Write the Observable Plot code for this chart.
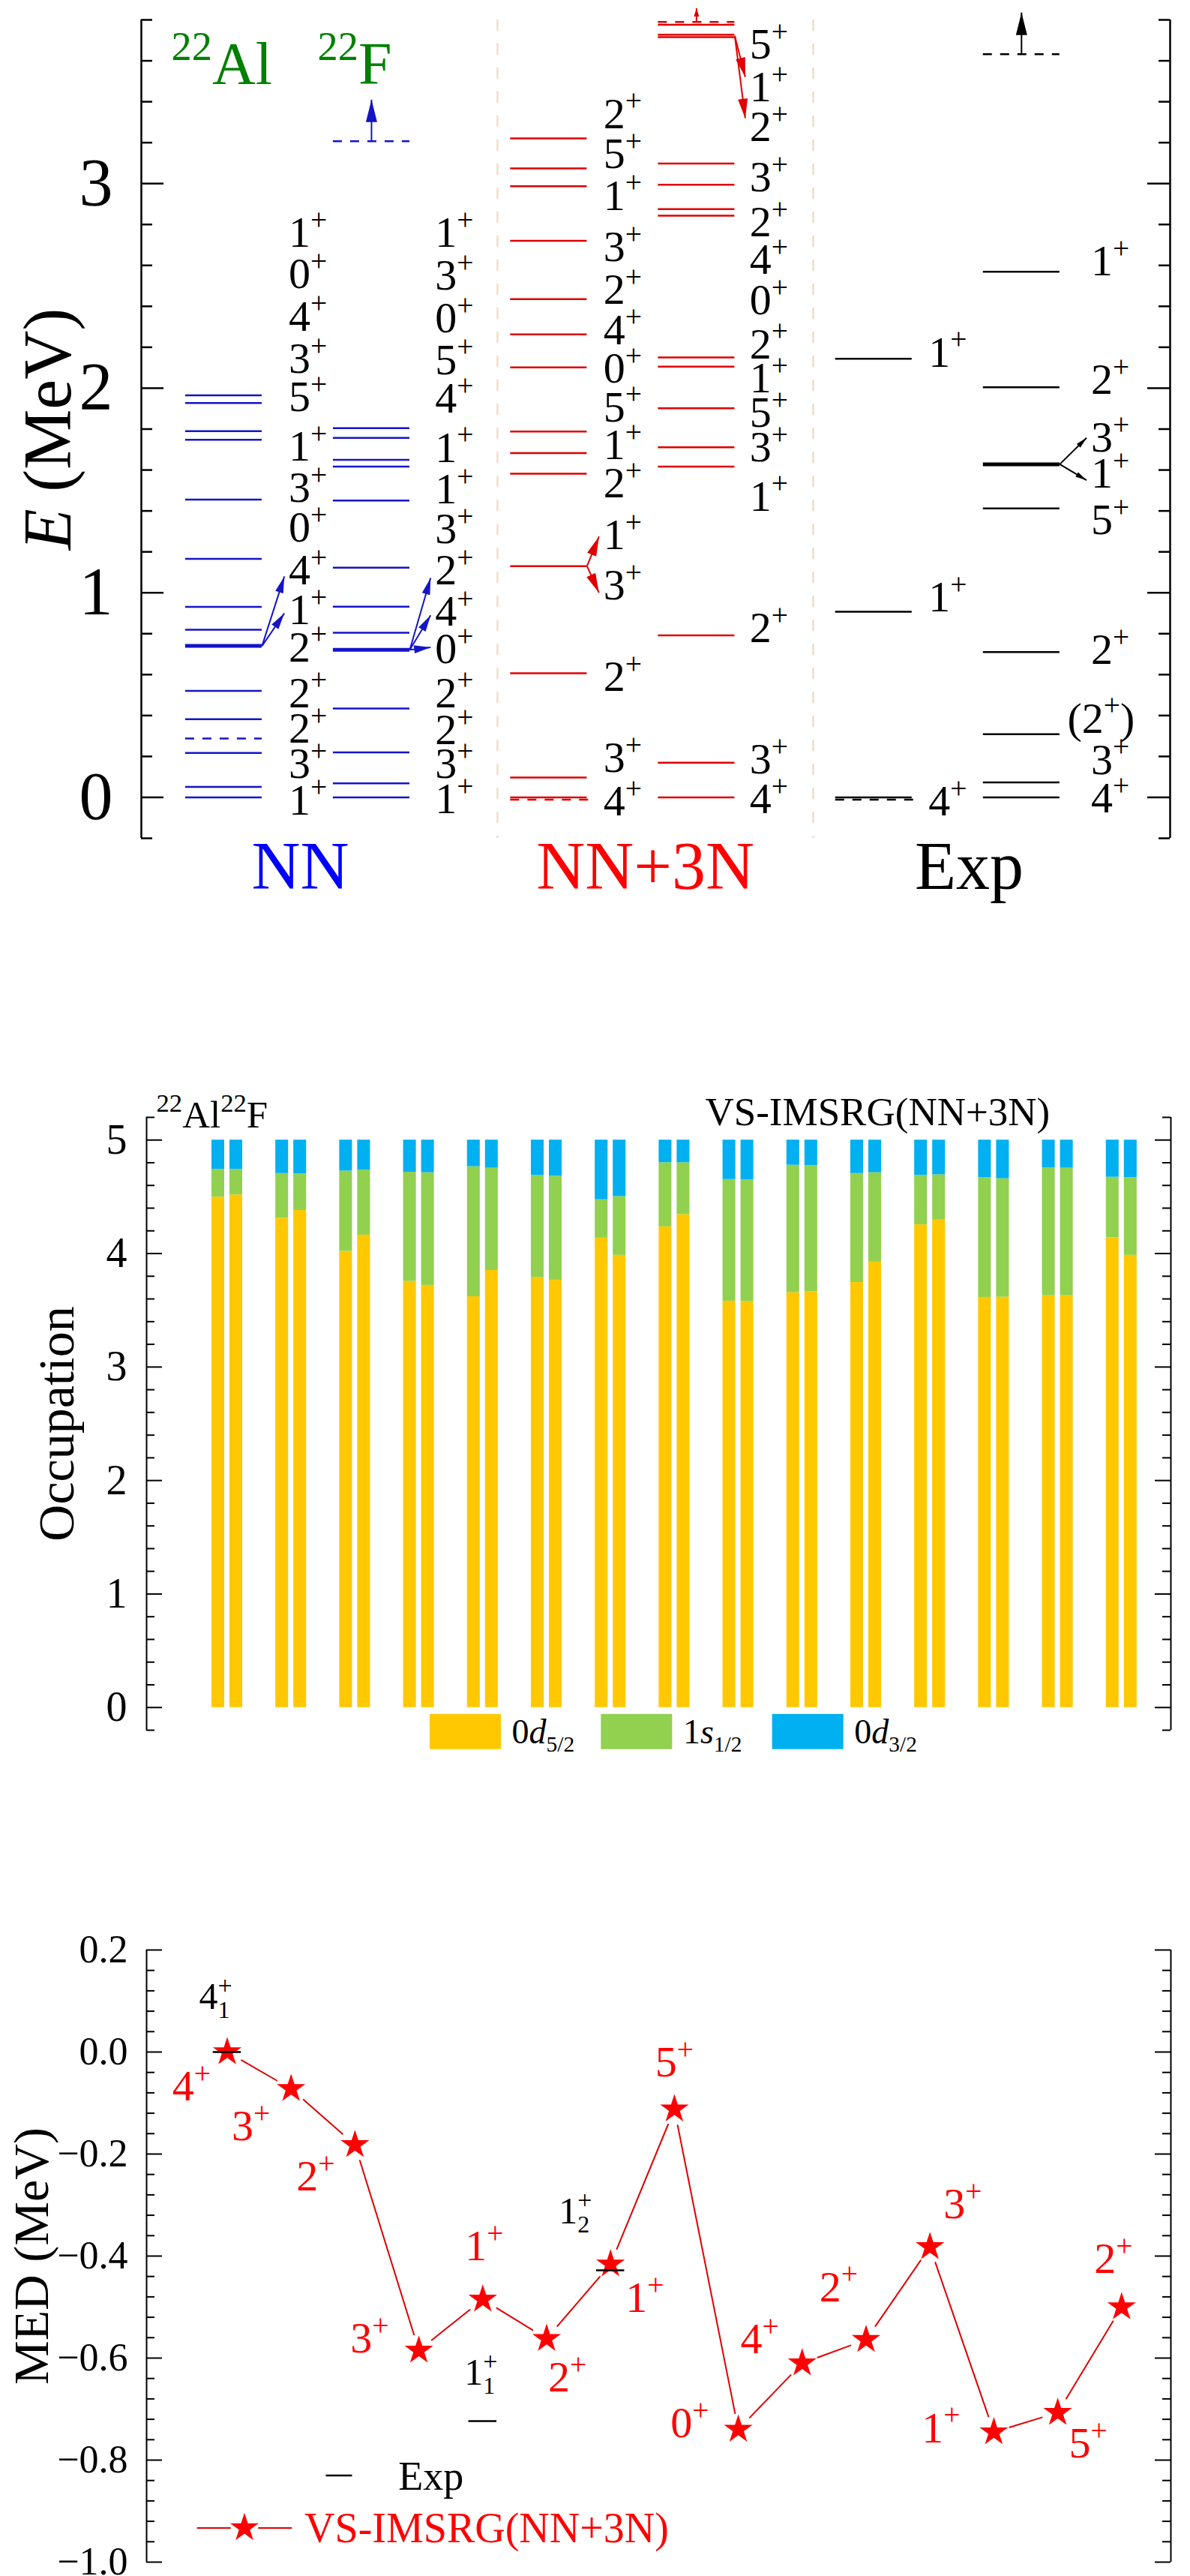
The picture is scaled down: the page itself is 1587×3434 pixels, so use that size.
<!DOCTYPE html>
<html><head><meta charset="utf-8">
<script src="https://cdn.jsdelivr.net/npm/d3@7"></script>
<script src="https://cdn.jsdelivr.net/npm/@observablehq/plot@0.6"></script>
<style>
html,body{margin:0;padding:0;background:#fff;}
#wrap{position:relative;width:1587px;height:3434px;background:#fff;}
#wrap svg{position:absolute;left:0;font-family:"Liberation Serif","Times New Roman",serif !important;}
#wrap svg text, #wrap svg tspan{font-family:"Liberation Serif","Times New Roman",serif !important;}
</style></head><body><div id="wrap"></div>
<script>
// ================= DATA =================
// --- Level scheme, excitation energies (MeV) ---
const nnAl = [0, 0.051, 0.217, 0.382, 0.520, 0.740, 0.819, 0.931, 1.166, 1.455, 1.748, 1.790, 1.927, 1.965];
const nnAlDashed = [0.288];
const nnAlThick = [0.740];
const nnAlSpin = ["1+","3+","2+","2+","2+","1+","4+","0+","3+","1+","5+","3+","4+","0+","1+"];
const nnAlSpinE = [-0.015,0.162,0.335,0.509,0.733,0.913,1.108,1.318,1.513,1.715,1.955,2.144,2.35,2.557,2.76];

const nnF = [0, 0.069, 0.220, 0.434, 0.721, 0.805, 0.932, 1.123, 1.451, 1.617, 1.650, 1.757, 1.805];
const nnFDashed = [3.207];
const nnFThick = [0.721];
const nnFSpin = ["1+","3+","2+","2+","0+","4+","2+","3+","1+","1+","4+","5+","0+","3+","1+"];
const nnFSpinE = [-0.01,0.162,0.328,0.509,0.725,0.906,1.108,1.311,1.506,1.708,1.948,2.137,2.34,2.55,2.76];

const n3Al = [0, 0.097, 0.607, 1.130, 1.582, 1.683, 1.788, 2.102, 2.263, 2.435, 2.720, 2.987, 3.074, 3.221];
const n3AlDashed = [0];
const n3AlThick = [];
const n3AlSpin = ["4+","3+","2+","3+","1+","2+","1+","5+","0+","4+","2+","3+","1+","5+","2+"];
const n3AlSpinE = [-0.019,0.191,0.588,1.036,1.282,1.535,1.72,1.906,2.095,2.284,2.48,2.69,2.94,3.144,3.34];

const n3F = [0, 0.169, 0.792, 1.617, 1.711, 1.902, 2.105, 2.150, 2.843, 2.875, 2.994, 3.098, 3.716, 3.728, 3.776];
const n3FDashed = [3.790];
const n3FThick = [];
const n3FSpin = ["4+","3+","2+","1+","3+","5+","1+","2+","0+","4+","2+","3+","2+","1+","5+"];
const n3FSpinE = [-0.01,0.184,0.827,1.47,1.71,1.878,2.046,2.214,2.43,2.627,2.81,3.03,3.277,3.47,3.68];

const expAl = [0, 0.907, 2.144];
const expAlDashed = [0];
const expAlThick = [];
const expAlSpin = ["4+","1+","1+"];
const expAlSpinE = [-0.02,0.977,2.174];

const expF = [0, 0.073, 0.309, 0.710, 1.412, 1.628, 2.004, 2.569];
const expFDashed = [3.632];
const expFThick = [1.628];
const expFSpin = ["4+","3+","(2+)","2+","5+","1+","3+","2+","1+"];
const expFSpinE = [-0.005,0.183,0.385,0.721,1.353,1.582,1.757,2.04,2.62];

// transitions (from level -> label energies)
const nnAlArrowFrom = 0.740, nnAlArrowTo = [1.08, 0.90];
const nnFArrowFrom = 0.721, nnFArrowTo = [1.072, 0.89, 0.733];
const n3AlArrowFrom = 1.130, n3AlArrowTo = [1.275, 1.00];
const n3FArrowFrom = 3.722, n3FArrowTo = [3.52, 3.319];
const expFArrowFrom = 1.628, expFArrowTo = [1.757, 1.55];
// thresholds with upward arrows [from, to]
const nnFUp = [3.207, 3.41];
const n3FUp = [3.790, 3.857];
const expFUp = [3.632, 3.836];

const topMajorTicks = [0, 1, 2, 3];
const topMinorTicks = [-0.2, 0.2, 0.4, 0.6, 0.8, 1.2, 1.4, 1.6, 1.8, 2.2, 2.4, 2.6, 2.8, 3.2, 3.4, 3.6, 3.8];
const columnTitles = ["NN", "NN+3N", "Exp"];

// --- Occupations (22Al left bar, 22F right bar of each pair) ---
const alD5 = [4.497, 4.311, 4.020, 3.755, 3.620, 3.788, 4.137, 4.236, 3.581, 3.656, 3.746, 4.254, 3.614, 3.629, 4.139];
const alS1 = [0.245, 0.395, 0.708, 0.962, 1.146, 0.901, 0.338, 0.565, 1.072, 1.123, 0.960, 0.435, 1.055, 1.128, 0.534];
const alD3 = [0.258, 0.294, 0.272, 0.283, 0.234, 0.311, 0.525, 0.199, 0.347, 0.221, 0.294, 0.311, 0.331, 0.243, 0.327];
const fD5  = [4.517, 4.380, 4.163, 3.720, 3.852, 3.766, 3.985, 4.344, 3.576, 3.664, 3.925, 4.296, 3.616, 3.629, 3.985];
const fS1  = [0.225, 0.322, 0.574, 0.993, 0.901, 0.916, 0.518, 0.457, 1.073, 1.111, 0.788, 0.399, 1.044, 1.124, 0.684];
const fD3  = [0.258, 0.298, 0.263, 0.287, 0.247, 0.318, 0.497, 0.199, 0.351, 0.225, 0.287, 0.305, 0.340, 0.247, 0.331];
const orbitals = ["0*{d}_{5/2}", "1*{s}_{1/2}", "0*{d}_{3/2}"];
const occMajorTicks = [0, 1, 2, 3, 4, 5];
const occMinorTicks = [-0.2,0.2,0.4,0.6,0.8,1.2,1.4,1.6,1.8,2.2,2.4,2.6,2.8,3.2,3.4,3.6,3.8,4.2,4.4,4.6,4.8,5.2];

// --- Mirror energy differences (MeV) ---
const medSpins = ["4+","3+","2+","3+","1+","2+","1+","5+","0+","4+","2+","3+","1+","5+","2+"];
const medValues = [0.0, -0.072, -0.182, -0.585, -0.485, -0.562, -0.416, -0.112, -0.740, -0.610, -0.564, -0.382, -0.745, -0.707, -0.500];
const expMedIndex = [0, 4, 6];
const expMedValues = [0.0, -0.7235, -0.428];
const expMedLabels = ["4_{1}^{+}", "1_{1}^{+}", "1_{2}^{+}"];
const medMajorTicks = [-1.0, -0.8, -0.6, -0.4, -0.2, 0.0, 0.2];
const medMinorTicks = [-0.96,-0.92,-0.88,-0.84,-0.76,-0.72,-0.68,-0.64,-0.56,-0.52,-0.48,-0.44,-0.36,-0.32,-0.28,-0.24,-0.16,-0.12,-0.08,-0.04,0.04,0.08,0.12,0.16];

// ================= STYLE / LAYOUT =================
const W = 1587;
const FONT = "Liberation Serif";
const BLUE_LINE = "#1414c8", BLUE = "#0000ff", RED_LINE = "#e00000", RED = "#ff0000", GREEN = "#008000", PEACH = "#f2dcc6";
const YEL = "#ffc800", GRN = "#92d050", BLU = "#00b0f0";
const NS = "http://www.w3.org/2000/svg";

function headMarker(len, wid) {
  return (color, context) => {
    const doc = (context && context.document) || document;
    const m = doc.createElementNS(NS, "marker");
    m.setAttribute("viewBox", `${-len} ${-wid / 2} ${len} ${wid}`);
    m.setAttribute("markerWidth", len);
    m.setAttribute("markerHeight", wid);
    m.setAttribute("markerUnits", "userSpaceOnUse");
    m.setAttribute("orient", "auto");
    m.setAttribute("refX", 0);
    m.setAttribute("refY", 0);
    m.setAttribute("overflow", "visible");
    const p = doc.createElementNS(NS, "path");
    p.setAttribute("d", `M${-len},${-wid / 2}L0,0L${-len},${wid / 2}Z`);
    p.setAttribute("fill", color);
    p.setAttribute("stroke", "none");
    m.appendChild(p);
    return m;
  };
}
function safeLink(data, opts, len, wid) {
  try { return Plot.link(data, {...opts, markerEnd: headMarker(len, wid)}); }
  catch (e) { return Plot.link(data, {...opts, markerEnd: "arrow"}); }
}

function parseRich(s) {
  const out = []; let i = 0, buf = "";
  while (i < s.length) {
    const c = s[i];
    if ((c === "^" || c === "_" || c === "*") && s[i + 1] === "{") {
      if (buf) { out.push({t: "n", s: buf}); buf = ""; }
      const j = s.indexOf("}", i + 2);
      out.push({t: c, s: s.slice(i + 2, j)});
      i = j + 1;
    } else { buf += c; i++; }
  }
  if (buf) out.push({t: "n", s: buf});
  return out;
}
function richify(svg) {
  svg.querySelectorAll("text").forEach(t => {
    if (t.querySelector("tspan")) return;
    const s = t.textContent;
    if (!/[\^_*]\{/.test(s)) return;
    const fs = parseFloat(getComputedStyle(t).fontSize);
    const segs = parseRich(s);
    t.textContent = "";
    let cur = 0, lastSub = null;
    for (const seg of segs) {
      const ts = document.createElementNS(NS, "tspan");
      ts.textContent = seg.s;
      let target = 0, size = fs;
      if (seg.t === "^") { target = -0.40 * fs; size = 0.68 * fs; }
      else if (seg.t === "_") { target = 0.24 * fs; size = 0.64 * fs; }
      if (seg.t === "*") ts.setAttribute("font-style", "italic");
      ts.setAttribute("font-size", size);
      const dy = target - cur;
      if (dy) ts.setAttribute("dy", dy);
      cur = target;
      t.appendChild(ts);
      if (seg.t === "^" && lastSub) ts.setAttribute("dx", -lastSub.getComputedTextLength());
      lastSub = seg.t === "_" ? ts : null;
    }
  });
}
function frameTicks(major, minor, plotW, majLen, minLen, sw) {
  return [
    Plot.ruleY(major, {insetRight: plotW - majLen, strokeWidth: sw}),
    Plot.ruleY(minor, {insetRight: plotW - minLen, strokeWidth: sw}),
    Plot.ruleY(major, {insetLeft: plotW - majLen, strokeWidth: sw}),
    Plot.ruleY(minor, {insetLeft: plotW - minLen, strokeWidth: sw})
  ];
}
const wrap = document.getElementById("wrap");
function place(svg, top) { svg.style.top = top + "px"; wrap.appendChild(svg); richify(svg); }

// ================= TOP: level scheme =================
const colX = [0, 1, 2.2, 3.2, 4.4, 5.4];          // column centres (x units)
const colLab = [0.44, 0.43, 0.37, 0.36, 0.37, 0.47]; // label offsets
const HALF = 0.259;
const cols = [
  {levels: nnAl, dashed: nnAlDashed, thick: nnAlThick, spins: nnAlSpin, spinE: nnAlSpinE, color: BLUE_LINE},
  {levels: nnF, dashed: nnFDashed, thick: nnFThick, spins: nnFSpin, spinE: nnFSpinE, color: BLUE_LINE},
  {levels: n3Al, dashed: n3AlDashed, thick: n3AlThick, spins: n3AlSpin, spinE: n3AlSpinE, color: RED_LINE},
  {levels: n3F, dashed: n3FDashed, thick: n3FThick, spins: n3FSpin, spinE: n3FSpinE, color: RED_LINE},
  {levels: expAl, dashed: expAlDashed, thick: expAlThick, spins: expAlSpin, spinE: expAlSpinE, color: "#000000"},
  {levels: expF, dashed: expFDashed, thick: expFThick, spins: expFSpin, spinE: expFSpinE, color: "#000000"}
];
const levelRecs = [], dashRecs = [], spinRecs = [];
cols.forEach((c, i) => {
  c.levels.forEach(E => levelRecs.push({x: colX[i], E, color: c.color, w: c.thick.includes(E) ? 5 : 2.5}));
  c.dashed.forEach(E => dashRecs.push({x: colX[i], E, color: c.color}));
  c.spins.forEach((s, j) => spinRecs.push({
    x: colX[i] + colLab[i] - (s[0] === "(" ? 0.16 : 0),
    E: c.spinE[j], label: s.replace("+", "^{+}")}));
});
const trans = [[0, nnAlArrowFrom, nnAlArrowTo], [1, nnFArrowFrom, nnFArrowTo], [2, n3AlArrowFrom, n3AlArrowTo],
               [3, n3FArrowFrom, n3FArrowTo], [5, expFArrowFrom, expFArrowTo]];
const transRecs = trans.flatMap(([i, from, tos]) => tos.map(to => ({
  x1: colX[i] + HALF, y1: from, x2: colX[i] + colLab[i] - 0.03, y2: to, color: cols[i].color})));
const upRecs = [[1, nnFUp], [3, n3FUp], [5, expFUp]].map(([i, u]) => ({x: colX[i], y1: u[0], y2: u[1], color: cols[i].color}));
const titleRecs = columnTitles.map((t, i) => ({t, x: [0.518, 2.853, 5.046][i], color: [BLUE, RED, "#000000"][i]}));
const dividerX = [1.853, 3.99];
const topPlotW = W - 188 - 27;

const topSvg = Plot.plot({
  width: W, height: 1230,
  marginLeft: 188, marginRight: 27, marginTop: 26, marginBottom: 113,
  x: {domain: [-0.558, 6.406], axis: null},
  y: {domain: [-0.2, 3.8]},
  style: {fontFamily: FONT, background: "transparent", overflow: "visible", color: "black"},
  marks: [
    Plot.ruleX(dividerX, {stroke: PEACH, strokeWidth: 2.5, strokeDasharray: "15,17"}),
    Plot.ruleY(levelRecs, {y: "E", x1: d => d.x - HALF, x2: d => d.x + HALF, stroke: "color", strokeWidth: "w"}),
    Plot.ruleY(dashRecs.filter(d => d.E !== 0), {y: "E", x1: d => d.x - HALF, x2: d => d.x + HALF, stroke: "color", strokeWidth: 2.5, strokeDasharray: "12,11"}),
    Plot.ruleY(dashRecs.filter(d => d.E === 0), {y: "E", x1: d => d.x - HALF, x2: d => d.x + HALF + 0.02, stroke: "color", strokeWidth: 2.5, strokeDasharray: "12,11", dy: 3}),
    safeLink(transRecs.filter(d => d.color === BLUE_LINE), {x1: "x1", y1: "y1", x2: "x2", y2: "y2", stroke: "color", strokeWidth: 2}, 22, 11),
    safeLink(transRecs.filter(d => d.color === RED_LINE), {x1: "x1", y1: "y1", x2: "x2", y2: "y2", stroke: "color", strokeWidth: 2}, 26, 13),
    safeLink(transRecs.filter(d => d.color === "#000000"), {x1: "x1", y1: "y1", x2: "x2", y2: "y2", stroke: "color", strokeWidth: 2}, 15, 7),
    safeLink(upRecs.filter(d => d.color !== RED_LINE), {x1: "x", y1: "y1", x2: "x", y2: "y2", stroke: "color", strokeWidth: 2}, 30, 15),
    safeLink(upRecs.filter(d => d.color === RED_LINE), {x1: "x", y1: "y1", x2: "x", y2: "y2", stroke: "color", strokeWidth: 2}, 11, 7),
    Plot.text(spinRecs, {x: "x", y: "E", text: "label", textAnchor: "start", fontSize: 58, fill: "black"}),
    Plot.text(titleRecs, {x: "x", y: -0.341, text: "t", fill: "color", fontSize: 90}),
    Plot.text(["^{22}Al"], {x: -0.355, y: 3.58, textAnchor: "start", fontSize: 80, fill: GREEN}),
    Plot.text(["^{22}F"], {x: 0.635, y: 3.58, textAnchor: "start", fontSize: 80, fill: GREEN}),
    Plot.text(["*{E} (MeV)"], {frameAnchor: "left", textAnchor: "middle", dx: -123, rotate: -90, fontSize: 90, fill: "black"}),
    Plot.axisY(topMajorTicks, {tickSize: 0, tickPadding: 38, fontSize: 90, tickFormat: d => String(d), label: null}),
    Plot.ruleX([-0.558, 6.406], {strokeWidth: 2.5}),
    ...frameTicks(topMajorTicks, topMinorTicks, topPlotW, 30, 15, 2.5)
  ]
});
place(topSvg, 0);

// ================= MIDDLE: occupations =================
const midPlotW = W - 195 - 26;
const occRecs = [];
medSpins.forEach((_, k) => {
  [[alD5, alS1, alD3, k - 0.241], [fD5, fS1, fD3, k + 0.041]].forEach(([a, b, c, x1]) => {
    let y = 0;
    [[a[k], YEL], [b[k], GRN], [c[k], BLU]].forEach(([v, col]) => {
      occRecs.push({x1, x2: x1 + 0.2, y1: y, y2: y + v, col}); y += v;
    });
  });
});
const legRecs = orbitals.map((o, i) => ({o, x: 3.175 + i * 2.68, col: [YEL, GRN, BLU][i]}));

const midSvg = Plot.plot({
  width: W, height: 960,
  marginLeft: 195, marginRight: 26, marginTop: 89, marginBottom: 54,
  x: {domain: [-1.2617, 14.771], axis: null},
  y: {domain: [-0.2, 5.2]},
  style: {fontFamily: FONT, background: "transparent", overflow: "visible", color: "black"},
  marks: [
    Plot.rect(occRecs, {x1: "x1", x2: "x2", y1: "y1", y2: "y2", fill: "col"}),
    Plot.rect(legRecs, {x1: "x", x2: d => d.x + 1.115, y1: -0.06, y2: -0.37, fill: "col"}),
    Plot.text(legRecs, {x: d => d.x + 1.28, y: -0.215, text: "o", textAnchor: "start", fontSize: 46, fill: "black"}),
    Plot.text(["^{22}Al^{22}F"], {x: -1.109, y: 5.22, textAnchor: "start", fontSize: 51, fill: "black"}),
    Plot.text(["VS-IMSRG(NN+3N)"], {x: 10.18, y: 5.245, fontSize: 53, fill: "black"}),
    Plot.text(["Occupation"], {frameAnchor: "left", textAnchor: "middle", dx: -119, rotate: -90, fontSize: 68, fill: "black"}),
    Plot.axisY(occMajorTicks, {tickSize: 0, tickPadding: 26, fontSize: 56, tickFormat: d => String(d), label: null}),
    Plot.ruleX([-1.2617, 14.771], {strokeWidth: 2}),
    ...frameTicks(occMajorTicks, occMinorTicks, midPlotW, 21, 11, 2)
  ]
});
place(midSvg, 1400);

// ================= BOTTOM: MED =================
const PXU = 85.2, PYU = 680;
const medPts = medValues.map((v, i) => ({i, v, s: medSpins[i].replace("+", "^{+}")}));
const medSegs = medPts.slice(1).map((p, k) => ({x1: medPts[k].i, y1: medPts[k].v, x2: p.i, y2: p.v}));
// label placement around each star: [anchor, dx px, dy px]
const medLabelPlace = [["end",-22,46],["end",-28,50],["end",-27,42],["end",-40,-16],["middle",2,-71],["start",2,52],
  ["start",20,45],["middle",0,-62],["end",-39,-8],["end",-31,-32],["end",-11,-70],["start",18,-57],["end",-45,-5],["start",15,41],["middle",-11,-64]];
const medLabRecs = medPts.map((p, k) => ({s: p.s, a: medLabelPlace[k][0],
  x: p.i + medLabelPlace[k][1] / PXU, y: p.v - medLabelPlace[k][2] / PYU}));
const expRecs = expMedIndex.map((i, k) => ({i, v: expMedValues[k], lab: expMedLabels[k]}));
const expLabPos = [[-0.18, 0.108], [3.97, -0.628], [5.45, -0.313]];
const botPlotW = W - 195 - 26;

const botSvg = Plot.plot({
  width: W, height: 914,
  marginLeft: 195, marginRight: 26, marginTop: 79, marginBottom: 19,
  x: {domain: [-1.2617, 14.771], axis: null},
  y: {domain: [-1.0, 0.2]},
  style: {fontFamily: FONT, background: "transparent", overflow: "visible", color: "black"},
  marks: [
    Plot.arrow(medSegs, {x1: "x1", y1: "y1", x2: "x2", y2: "y2", stroke: RED_LINE, strokeWidth: 2, headLength: 0, insetStart: 22, insetEnd: 22}),
    Plot.dot(medPts, {x: "i", y: "v", symbol: "star", r: 12, fill: RED, stroke: "none"}),
    Plot.ruleY(expRecs, {y: "v", x1: d => d.i - 0.22, x2: d => d.i + 0.22, stroke: "black", strokeWidth: 2.5}),
    ...["start", "middle", "end"].map(a => Plot.text(medLabRecs.filter(d => d.a === a), {x: "x", y: "y", text: "s", textAnchor: a, fontSize: 58, fill: RED})),
    Plot.text(expRecs, {x: (d, k) => expLabPos[k][0], y: (d, k) => expLabPos[k][1], text: "lab", fontSize: 50, fill: "black"}),
    // legend
    Plot.ruleY([-0.830], {x1: 1.549, x2: 1.96, stroke: "black", strokeWidth: 2.5}),
    Plot.text(["Exp"], {x: 2.68, y: -0.833, textAnchor: "start", fontSize: 54, fill: "black"}),
    Plot.arrow([{x1: -0.464, x2: 0.27}], {x1: "x1", x2: "x2", y1: -0.933, y2: -0.933, stroke: RED_LINE, strokeWidth: 2, headLength: 0, insetEnd: 19}),
    Plot.arrow([{x1: 0.27, x2: 1.003}], {x1: "x1", x2: "x2", y1: -0.933, y2: -0.933, stroke: RED_LINE, strokeWidth: 2, headLength: 0, insetStart: 19}),
    Plot.dot([0.27], {x: d => d, y: -0.933, symbol: "star", r: 12, fill: RED, stroke: "none"}),
    Plot.text(["VS-IMSRG(NN+3N)"], {x: 1.21, y: -0.934, textAnchor: "start", fontSize: 56, fill: RED}),
    Plot.text(["MED (MeV)"], {frameAnchor: "left", textAnchor: "middle", dx: -153, rotate: -90, fontSize: 66, fill: "black"}),
    Plot.axisY(medMajorTicks, {tickSize: 0, tickPadding: 25, fontSize: 52, tickFormat: d3.format(".1f"), label: null}),
    Plot.ruleX([-1.2617, 14.771], {strokeWidth: 2}),
    ...frameTicks(medMajorTicks, medMinorTicks, botPlotW, 21, 11, 2)
  ]
});
place(botSvg, 2520);
</script></body></html>
